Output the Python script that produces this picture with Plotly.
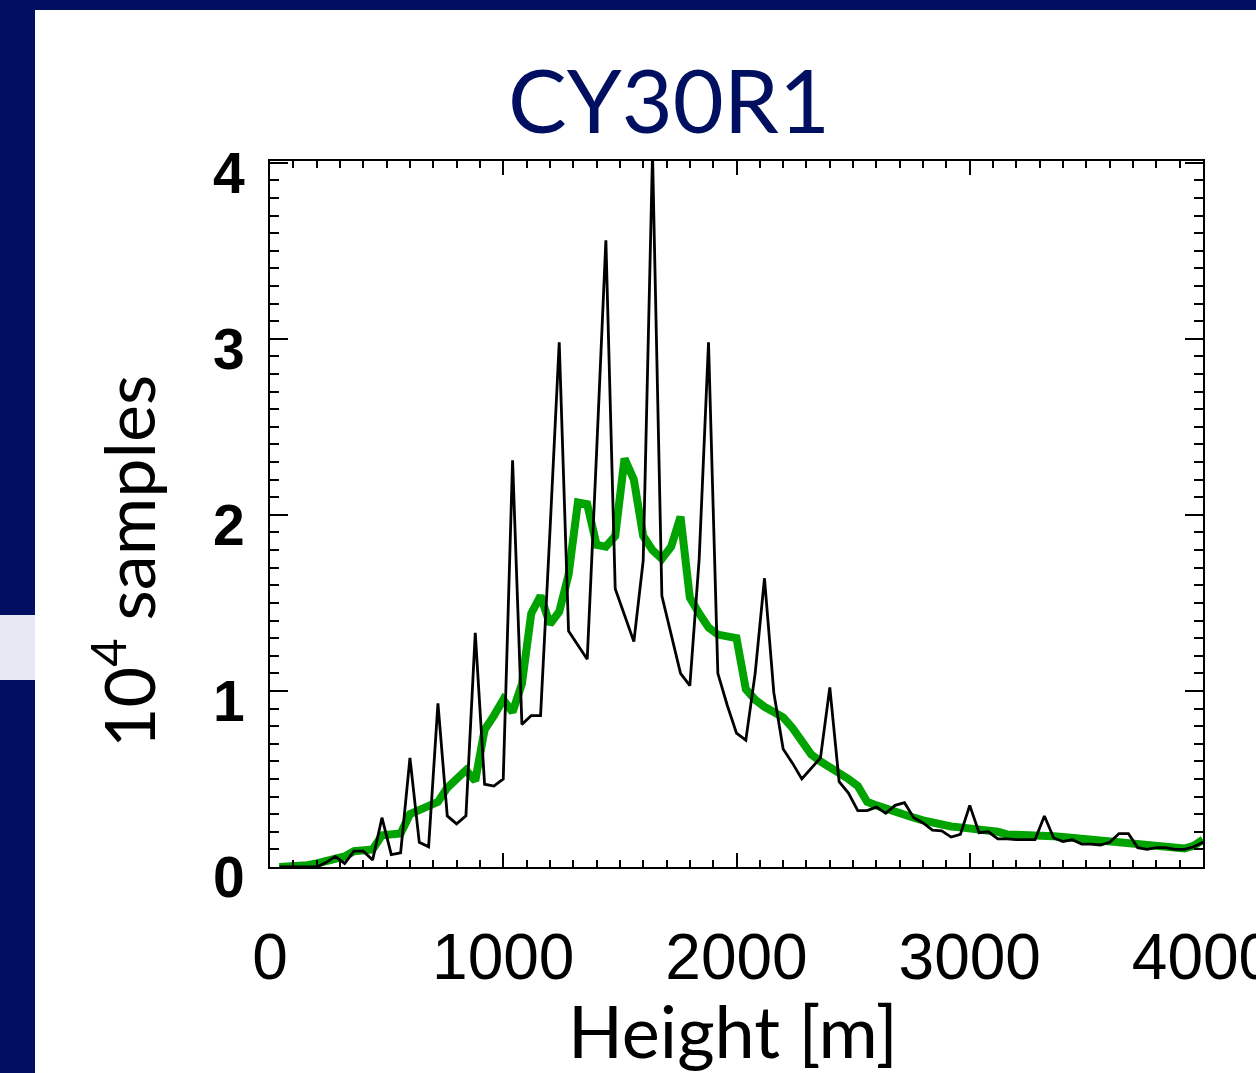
import plotly.graph_objects as go

# ---- data (heights in m, counts in 10^4 samples) ----
height_m = [40 * k for k in range(1, 101)]

obs_counts = [
    0.0, 0.0, 0.0, 0.0, 0.0, 0.025, 0.06, 0.02, 0.09, 0.09,
    0.04, 0.28, 0.07, 0.08, 0.62, 0.14, 0.115, 0.93, 0.29, 0.245,
    0.29, 1.33, 0.47, 0.46, 0.50, 2.31, 0.81, 0.86, 0.86, 1.9,
    2.98, 1.34, 1.26, 1.18, 2.35, 3.56, 1.58, 1.43, 1.28, 1.74,
    4.05, 1.54, 1.32, 1.10, 1.03, 1.75, 2.98, 1.10, 0.92, 0.76,
    0.72, 1.1, 1.64, 0.99, 0.67, 0.59, 0.50, 0.56, 0.62, 1.02,
    0.485, 0.42, 0.32, 0.32, 0.34, 0.305, 0.35, 0.365, 0.28, 0.25,
    0.21, 0.205, 0.17, 0.185, 0.35, 0.195, 0.20, 0.16, 0.16, 0.155,
    0.155, 0.155, 0.29, 0.165, 0.145, 0.155, 0.13, 0.13, 0.125, 0.14,
    0.19, 0.19, 0.11, 0.10, 0.11, 0.11, 0.10, 0.10, 0.115, 0.14,
]

model_counts = [
    0.0, 0.0, 0.0, 0.01, 0.02, 0.03, 0.04, 0.06, 0.09, 0.09,
    0.10, 0.18, 0.19, 0.19, 0.30, 0.32, 0.34, 0.37, 0.45, 0.50,
    0.55, 0.49, 0.78, 0.86, 0.95, 0.88, 1.04, 1.44, 1.54, 1.38,
    1.45, 1.66, 2.07, 2.06, 1.83, 1.82, 1.88, 2.32, 2.20, 1.88,
    1.80, 1.75, 1.82, 1.99, 1.53, 1.44, 1.36, 1.32, 1.31, 1.30,
    1.01, 0.95, 0.91, 0.88, 0.85, 0.79, 0.72, 0.64, 0.60, 0.57,
    0.53, 0.50, 0.46, 0.37, 0.35, 0.33, 0.31, 0.295, 0.28, 0.265,
    0.25, 0.24, 0.23, 0.225, 0.22, 0.215, 0.21, 0.20, 0.185, 0.185,
    0.185, 0.185, 0.18, 0.175, 0.17, 0.165, 0.16, 0.16, 0.155, 0.15,
    0.145, 0.14, 0.135, 0.13, 0.12, 0.115, 0.11, 0.105, 0.12, 0.155,
]

x_tickvals = [0, 1000, 2000, 3000, 4000]
y_tickvals = [0, 1, 2, 3, 4]

title_text = "CY30R1"
x_title = "Height [m]"
y_title = "10<sup>4</sup> samples"

NAVY = "#000F5F"

fig = go.Figure()
fig.add_trace(go.Scatter(x=height_m, y=model_counts, mode="lines",
                         line=dict(color="#00A300", width=8), showlegend=False))
fig.add_trace(go.Scatter(x=height_m, y=obs_counts, mode="lines",
                         line=dict(color="black", width=2.8), showlegend=False))

W, H = 1256, 1073
L, R, T, B = 270, 53, 161, 206
pw, ph = W - L - R, H - T - B


def px_x(p):
    return (p - L) / pw


def px_y(p):
    return (H - B - p) / ph


shapes = [
    dict(type="rect", xref="paper", yref="paper", x0=px_x(0), x1=px_x(W), y0=px_y(10), y1=px_y(0),
         fillcolor=NAVY, line_width=0, layer="below"),
    dict(type="rect", xref="paper", yref="paper", x0=px_x(0), x1=px_x(35), y0=px_y(H), y1=px_y(0),
         fillcolor=NAVY, line_width=0, layer="below"),
    dict(type="rect", xref="paper", yref="paper", x0=px_x(0), x1=px_x(35), y0=px_y(680), y1=px_y(615),
         fillcolor="#E8E8F5", line_width=0, layer="below"),
]

fig.update_layout(
    width=W, height=H,
    margin=dict(l=L, r=R, t=T, b=B, autoexpand=False),
    paper_bgcolor="white", plot_bgcolor="white",
    shapes=shapes,
    annotations=[
        dict(text=title_text, xref="paper", yref="paper", x=px_x(669), y=px_y(99),
             xanchor="center", yanchor="middle", showarrow=False,
             font=dict(family="Lato", size=88, color=NAVY)),
        dict(text=x_title, xref="paper", yref="paper", x=px_x(733), y=px_y(1030),
             xanchor="center", yanchor="middle", showarrow=False,
             font=dict(family="Lato", size=72, color="black")),
        dict(text=y_title, xref="paper", yref="paper", x=px_x(124), y=px_y(562),
             xanchor="center", yanchor="middle", showarrow=False, textangle=-90,
             font=dict(family="Lato", size=70, color="black")),
    ],
    xaxis=dict(range=[0, 4000], tickvals=x_tickvals, ticktext=[str(v) for v in x_tickvals],
               ticks="inside", ticklen=14, tickwidth=1.5, tickcolor="black",
               showline=True, linecolor="black", linewidth=2, mirror="ticks",
               showgrid=False, zeroline=False,
               minor=dict(dtick=100, ticks="inside", ticklen=7, tickwidth=1.5, tickcolor="black", showgrid=False),
               tickfont=dict(family="Liberation Sans", size=64, color="black"),
               ticklabelstandoff=33, ticklabeloverflow="allow"),
    yaxis=dict(range=[0, 4.01], tickvals=y_tickvals, ticktext=[str(v) for v in y_tickvals],
               ticks="inside", ticklen=18, tickwidth=1.5, tickcolor="black",
               showline=True, linecolor="black", linewidth=2, mirror="ticks",
               showgrid=False, zeroline=False,
               minor=dict(dtick=0.1, ticks="inside", ticklen=9, tickwidth=1.5, tickcolor="black", showgrid=False),
               tickfont=dict(family="Liberation Sans", size=57, color="black", weight="bold"),
               ticklabelstandoff=12, ticklabelshift=10, ticklabeloverflow="allow"),
)

fig.write_html("out.html", config={"displayModeBar": False},
               post_script="document.body.style.margin='0px';")
